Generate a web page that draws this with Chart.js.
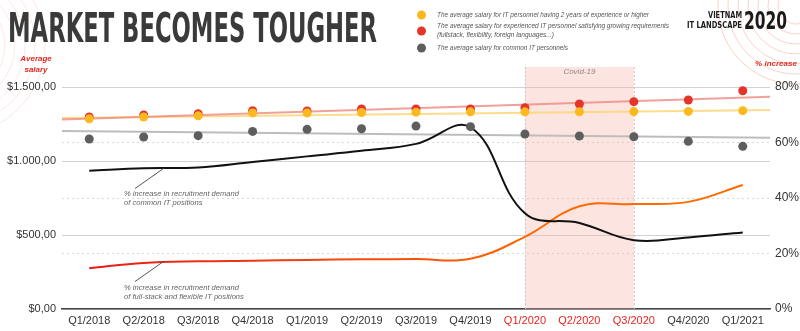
<!DOCTYPE html>
<html>
<head>
<meta charset="utf-8">
<script src="https://cdn.jsdelivr.net/npm/chart.js@4"></script>
<style>
  html, body { margin: 0; padding: 0; background: #ffffff; }
  #wrap { width: 800px; height: 331px; position: relative; }
</style>
</head>
<body>
<div id="wrap"><canvas id="c" width="800" height="331"></canvas></div>
<script>
// ---------- DATA ----------
const categories = ['Q1/2018','Q2/2018','Q3/2018','Q4/2018','Q1/2019','Q2/2019','Q3/2019','Q4/2019','Q1/2020','Q2/2020','Q3/2020','Q4/2020','Q1/2021'];
const highlightedCategories = ['Q1/2020','Q2/2020','Q3/2020'];
const covidStart = 'Q1/2020';
const covidEnd = 'Q3/2020';

// Average salary (USD), left axis
const salary2YearsExp   = [1285,1297,1305,1325,1325,1328,1330,1332,1332,1333,1334,1335,1340];
const salaryExperienced = [1297,1311,1320,1340,1338,1351,1351,1351,1360,1385,1401,1412,1475];
const salaryCommon      = [1149,1162,1171,1200,1214,1218,1236,1232,1182,1169,1164,1133,1099];

// trend lines: value at left edge and right edge of the plot
const trend2YearsExp   = [1290,1345];
const trendExperienced = [1280,1434];
const trendCommon      = [1203,1157];

// % increase in recruitment demand, right axis
const demandCommonPct    = [49.8,50.7,51.0,53.0,55.0,57.0,59.5,65.5,34.5,31.0,24.8,25.8,27.6];
const demandFullstackPct = [14.7,16.6,17.2,17.4,17.7,17.9,18.0,18.1,26.0,37.0,37.8,38.6,44.7];

const leftTickLabels  = ['$0,00','$500,00','$1.000,00','$1.500,00'];
const rightTickLabels = ['0%','20%','40%','60%','80%'];

const titleText = 'MARKET BECOMES TOUGHER';
const legendLines = [
  ['The average salary for IT personnel having 2 years of experience or higher'],
  ['The average salary for experienced IT personnel satisfying growing requirements','(fullstack, flexibility, foreign languages...)'],
  ['The average salary for common IT personnels']
];
const annotCommon = ['% increase in recruitment demand','of common IT positions'];
const annotFullstack = ['% increase in recruitment demand','of full-stack and flexible IT positions'];

// ---------- helpers ----------
const toPts = arr => arr.map((v,i) => ({x:i, y:v}));
const edgeMin = -0.5, edgeMax = categories.length - 0.5;
const trendPts = t => [{x:edgeMin, y:t[0]}, {x:edgeMax, y:t[1]}];

const COL_YELLOW = '#fbb91f';
const COL_RED = '#e5352b';
const COL_GREY = '#5e5e5e';

const decorPlugin = {
  id: 'decor',
  beforeDraw(chart) {
    const ctx = chart.ctx;
    ctx.save();
    ctx.fillStyle = '#ffffff';
    ctx.fillRect(0,0,chart.width,chart.height);
    ctx.strokeStyle = 'rgba(240,130,100,0.35)';
    ctx.lineWidth = 1;
    for (let r = 18; r <= 78; r += 10) {
      ctx.beginPath(); ctx.arc(796, 6, r, 0, Math.PI*2); ctx.stroke();
    }
    ctx.strokeStyle = 'rgba(240,130,100,0.18)';
    for (let r = 40; r <= 90; r += 10) {
      ctx.beginPath(); ctx.arc(-45, 45, r, 0, Math.PI*2); ctx.stroke();
    }
    ctx.restore();
  },
  beforeDatasetsDraw(chart) {
    const ctx = chart.ctx, xs = chart.scales.x, a = chart.chartArea;
    const x0 = xs.getPixelForValue(categories.indexOf(covidStart));
    const x1 = xs.getPixelForValue(categories.indexOf(covidEnd));
    const top = a.top - 20;
    ctx.save();
    ctx.fillStyle = 'rgba(245,175,160,0.33)';
    ctx.fillRect(x0, top, x1-x0, a.bottom-top);
    ctx.strokeStyle = '#c8c8c8';
    ctx.setLineDash([2,2]);
    ctx.lineWidth = 1;
    [x0,x1].forEach(x => { ctx.beginPath(); ctx.moveTo(x+0.5, top); ctx.lineTo(x+0.5, a.bottom); ctx.stroke(); });
    ctx.setLineDash([]);
    ctx.fillStyle = '#8a8a8a';
    ctx.font = 'italic 8px "Liberation Sans", Arial, sans-serif';
    ctx.textAlign = 'center'; ctx.textBaseline = 'middle';
    ctx.fillText('Covid-19', (x0+x1)/2, top+5);
    ctx.restore();
  },
  afterDraw(chart) {
    const ctx = chart.ctx;
    ctx.save();
    ctx.fillStyle = '#3a3a3a';
    ctx.font = 'bold 41px "Liberation Sans Narrow", "DejaVu Sans Condensed", sans-serif';
    ctx.textAlign = 'left'; ctx.textBaseline = 'alphabetic';
    ctx.fillText(titleText, 8, 42, 369);

    const dotCols = [COL_YELLOW, COL_RED, COL_GREY];
    const dotY = [15, 31, 48];
    const textY = [[15],[26,35],[48]];
    const maxW = [[212],[232,117],[131]];
    ctx.font = 'italic 6.8px "Liberation Sans", Arial, sans-serif';
    ctx.textBaseline = 'middle';
    for (let i = 0; i < 3; i++) {
      ctx.fillStyle = dotCols[i];
      ctx.beginPath(); ctx.arc(421.5, dotY[i], 4.5, 0, Math.PI*2); ctx.fill();
      ctx.fillStyle = '#555';
      legendLines[i].forEach((t,j) => ctx.fillText(t, 437, textY[i][j], maxW[i][j]));
    }

    ctx.fillStyle = '#1a1a1a';
    ctx.textAlign = 'right'; ctx.textBaseline = 'alphabetic';
    ctx.font = 'bold 9.5px "Liberation Sans Narrow", "DejaVu Sans Condensed", sans-serif';
    ctx.fillText('VIETNAM', 742, 17.5, 34);
    ctx.fillText('IT LANDSCAPE', 742, 27.5, 55);
    ctx.textAlign = 'left';
    ctx.font = 'bold 24px "Liberation Sans Narrow", "DejaVu Sans Condensed", sans-serif';
    ctx.fillText('2020', 744, 28.5, 43);

    ctx.fillStyle = '#e02b20';
    ctx.font = 'bold italic 8px "Liberation Sans", Arial, sans-serif';
    ctx.textAlign = 'center'; ctx.textBaseline = 'middle';
    ctx.fillText('Average', 36, 59);
    ctx.fillText('salary', 36, 69.5);
    ctx.fillText('% increase', 776, 63.5);

    ctx.strokeStyle = '#555'; ctx.lineWidth = 1;
    ctx.beginPath(); ctx.moveTo(163.5, 168.5); ctx.lineTo(135, 188.5); ctx.stroke();
    ctx.beginPath(); ctx.moveTo(163.5, 261.5); ctx.lineTo(135, 281.5); ctx.stroke();
    ctx.fillStyle = '#666';
    ctx.font = 'italic 7.6px "Liberation Sans", Arial, sans-serif';
    ctx.textAlign = 'left';
    ctx.fillText(annotCommon[0], 124, 193.5, 115);
    ctx.fillText(annotCommon[1], 124, 203);
    ctx.fillText(annotFullstack[0], 124, 287.5, 115);
    ctx.fillText(annotFullstack[1], 124, 297);
    ctx.restore();
  }
};

const ctx = document.getElementById('c').getContext('2d');
const chart = new Chart(ctx, {
  type: 'line',
  data: {
    datasets: [
      { label: 'salary2y', data: toPts(salary2YearsExp), yAxisID: 'y', showLine: false,
        pointRadius: 4.5, pointBackgroundColor: COL_YELLOW, pointBorderWidth: 0, order: 0, clip: false },
      { label: 'salaryExp', data: toPts(salaryExperienced), yAxisID: 'y', showLine: false,
        pointRadius: 4.5, pointBackgroundColor: COL_RED, pointBorderWidth: 0, order: 1, clip: false },
      { label: 'salaryCommon', data: toPts(salaryCommon), yAxisID: 'y', showLine: false,
        pointRadius: 4.5, pointBackgroundColor: COL_GREY, pointBorderWidth: 0, order: 2, clip: false },
      { label: 'demandCommon', data: toPts(demandCommonPct), yAxisID: 'y1',
        borderColor: '#111', borderWidth: 2, pointRadius: 0, tension: 0.4, order: 3, clip: false },
      { label: 'demandFullstack', data: toPts(demandFullstackPct), yAxisID: 'y1',
        borderColor: (c) => {
          const a = c.chart.chartArea; if (!a) return '#ff6a00';
          const g = c.chart.ctx.createLinearGradient(a.left, 0, a.right, 0);
          g.addColorStop(0, '#e4161a'); g.addColorStop(0.35, '#f2420e'); g.addColorStop(0.7, '#ff6a00'); g.addColorStop(1, '#ff6a00');
          return g;
        },
        borderWidth: 2, pointRadius: 0, tension: 0.4, order: 4, clip: false },
      { label: 'trendExp', data: trendPts(trendExperienced), yAxisID: 'y',
        borderColor: 'rgba(238,130,120,0.75)', borderWidth: 2, pointRadius: 0, order: 5 },
      { label: 'trend2y', data: trendPts(trend2YearsExp), yAxisID: 'y',
        borderColor: 'rgba(253,214,120,0.85)', borderWidth: 2, pointRadius: 0, order: 6 },
      { label: 'trendCommon', data: trendPts(trendCommon), yAxisID: 'y',
        borderColor: '#bdbdbd', borderWidth: 2, pointRadius: 0, order: 7 }
    ]
  },
  options: {
    responsive: false,
    animation: false,
    devicePixelRatio: 1,
    layout: { padding: { top: 87, left: 0, right: 0, bottom: 0 } },
    plugins: { legend: { display: false }, tooltip: { enabled: false } },
    scales: {
      x: {
        type: 'linear', min: edgeMin, max: edgeMax,
        afterBuildTicks: (s) => { s.ticks = categories.map((c,i) => ({value:i})); },
        afterFit: (s) => { s.height = 22; },
        ticks: {
          autoSkip: false, maxRotation: 0, padding: 5,
          font: { family: '"Liberation Sans", Arial, sans-serif', size: 11 },
          color: (c) => highlightedCategories.includes(categories[c.tick.value]) ? '#e5251c' : '#333',
          callback: (v) => categories[v] ?? ''
        },
        grid: { display: false, drawTicks: false },
        border: { display: true, color: '#444', width: 1.5 }
      },
      y: {
        position: 'left', min: 0, max: 1500,
        afterBuildTicks: (s) => { s.ticks = leftTickLabels.map((l,i) => ({value: i*500})); },
        afterFit: (s) => { s.width = 62; },
        ticks: {
          padding: 6, color: '#333',
          font: { family: '"Liberation Sans", Arial, sans-serif', size: 11 },
          callback: (v) => leftTickLabels[Math.round(v/500)]
        },
        grid: { color: '#d2d2d2', lineWidth: 1, drawTicks: false },
        border: { display: false }
      },
      y1: {
        position: 'right', min: 0, max: 80,
        afterBuildTicks: (s) => { s.ticks = rightTickLabels.map((l,i) => ({value: i*20})); },
        afterFit: (s) => { s.width = 30; },
        ticks: {
          padding: 5, color: '#333',
          font: { family: '"Liberation Sans", Arial, sans-serif', size: 12 },
          callback: (v) => rightTickLabels[Math.round(v/20)]
        },
        grid: {
          drawTicks: false, lineWidth: 1,
          color: (c) => (c.tick && c.tick.value > 0 && c.tick.value < 80) ? '#d8d8d8' : 'rgba(0,0,0,0)'
        },
        border: { display: false, dash: [2,3] }
      }
    }
  },
  plugins: [decorPlugin]
});
</script>
</body>
</html>
